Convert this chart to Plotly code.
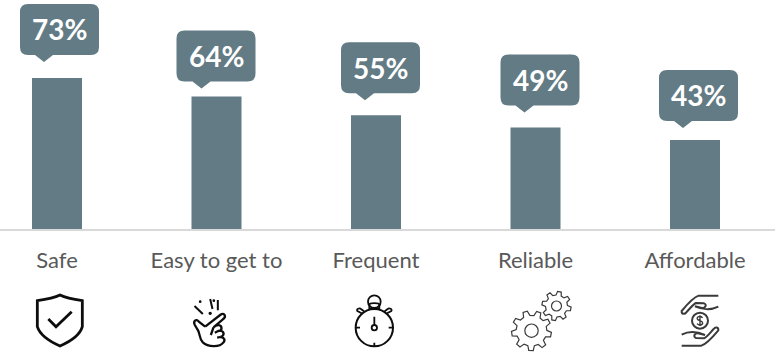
import math
import re
import plotly.graph_objects as go

categories = ["Safe", "Easy to get to", "Frequent", "Reliable", "Affordable"]
shares = [73, 64, 55, 49, 43]

BAR_COLOR = "#627b84"
AXIS_COLOR = "#d9d9d9"
LABEL_COLOR = "#595959"
ICON_DARK = "#0d0d0d"
ICON_SOFT = "#3a3a3a"

WIDTH, HEIGHT = 781, 354
LINE_END = 775
FIRST_CENTER = 57
STEP = 159.5
BASELINE = 229
PX_PER_POINT = 2.07

# Speech bubble geometry, in pixels measured from the top centre of each bar.
BUBBLE_W, BUBBLE_H = 79, 51
BUBBLE_LEFT = [-37, -40, -35, -35, -36]
BUBBLE_TIP_X = [-13, -15, -11, -11, -12]
BUBBLE_GAP = [16, 8, 15, 15, 12]


def bubble_path(left, tip_x, gap):
    """Rounded callout whose pointer tip sits `gap` pixels above the anchor."""
    r = 8
    bottom = gap + 7
    top = bottom + BUBBLE_H
    right = left + BUBBLE_W
    return (
        f"M{left + r},{top} L{right - r},{top} Q{right},{top} {right},{top - r} "
        f"L{right},{bottom + r} Q{right},{bottom} {right - r},{bottom} "
        f"L{tip_x + 9},{bottom} L{tip_x},{gap} L{tip_x - 9},{bottom} "
        f"L{left + r},{bottom} Q{left},{bottom} {left},{bottom + r} "
        f"L{left},{top - r} Q{left},{top} {left + r},{top} Z"
    )


def place(path, dx, dy, scale=1 / 3):
    """Map y-down icon units onto pixels around the axis anchor (y up)."""
    def swap(m):
        x = float(m.group(1)) * scale + dx
        y = -(float(m.group(2)) * scale + dy)
        return f"{x:.2f},{y:.2f}"
    return re.sub(r"(-?[\d.]+),(-?[\d.]+)", swap, path)


def circle(cx, cy, r):
    k = 0.5523 * r
    return (
        f"M{cx - r},{cy} C{cx - r},{cy - k} {cx - k},{cy - r} {cx},{cy - r} "
        f"C{cx + k},{cy - r} {cx + r},{cy - k} {cx + r},{cy} "
        f"C{cx + r},{cy + k} {cx + k},{cy + r} {cx},{cy + r} "
        f"C{cx - k},{cy + r} {cx - r},{cy + k} {cx - r},{cy} Z"
    )


def gear(cx, cy, outer, inner, teeth):
    pts = []
    for i in range(teeth):
        a = 2 * math.pi * i / teeth + 0.2
        w = math.pi / teeth
        for ang, rad in (
            (a - w * 0.62, inner), (a - w * 0.32, outer),
            (a + w * 0.32, outer), (a + w * 0.62, inner),
        ):
            pts.append((cx + rad * math.cos(ang), cy + rad * math.sin(ang)))
    return "M" + " L".join(f"{x:.1f},{y:.1f}" for x, y in pts) + " Z"


fig = go.Figure(
    go.Bar(
        x=categories,
        y=shares,
        width=50 / STEP,
        marker=dict(color=BAR_COLOR, line=dict(width=0)),
        hoverinfo="skip",
    )
)

shapes = []
annotations = []
for i, (cat, val) in enumerate(zip(categories, shares)):
    shapes.append(dict(
        type="path",
        xref="x", yref="y",
        xsizemode="pixel", ysizemode="pixel",
        xanchor=cat, yanchor=val,
        path=bubble_path(BUBBLE_LEFT[i], BUBBLE_TIP_X[i], BUBBLE_GAP[i]),
        fillcolor=BAR_COLOR,
        line=dict(width=0),
    ))
    annotations.append(dict(
        x=cat, y=val, xref="x", yref="y",
        text=f"<b>{val}%</b>",
        showarrow=False,
        xanchor="center", yanchor="middle",
        xshift=BUBBLE_LEFT[i] + BUBBLE_W / 2,
        yshift=BUBBLE_GAP[i] + 7 + BUBBLE_H / 2,
        font=dict(family="Lato", size=28, color="white"),
    ))


def icon(cat, path, dx, dy, width, color=ICON_DARK, fill="rgba(0,0,0,0)"):
    shapes.append(dict(
        type="path",
        xref="x", yref="paper",
        xsizemode="pixel", ysizemode="pixel",
        xanchor=cat, yanchor=0,
        path=place(path, dx, dy),
        fillcolor=fill,
        line=dict(color=color, width=width),
    ))


# Shield with a check mark.
SAFE_DX, SAFE_DY = 20 - 57, 285 - BASELINE
icon("Safe",
     "M52,47 C80,43 100,40 120,30 C140,40 160,43 187,47 L187,125 "
     "C180,150 150,170 120,183 C90,170 60,150 52,125 Z",
     SAFE_DX, SAFE_DY, 2.8)
icon("Safe", "M85,102 L108,125 L155,80", SAFE_DX, SAFE_DY, 2.8)

# Snapping fingers with sparks.
SNAP_DX, SNAP_DY = 170 - 217, 285 - BASELINE
icon("Easy to get to", "M75,63 L100,87 M122,42 L129,72 M145,45 L145,76",
     SNAP_DX, SNAP_DY, 2.0)
icon("Easy to get to", circle(92, 50, 2) + " " + circle(133, 47, 2) + " " + circle(122, 85, 3),
     SNAP_DX, SNAP_DY, 1.4, fill=ICON_DARK)
icon("Easy to get to",
     "M107,125 L152,90 C165,80 172,95 160,103 L132,127 "
     "C142,118 156,118 156,130 C156,136 150,138 146,138 "
     "C158,134 166,144 160,152 C158,155 155,156 152,156 "
     "C164,156 168,166 162,172 C150,188 115,186 100,172 "
     "C88,160 92,145 85,135 L76,120 C70,108 80,100 88,110 L107,125 "
     "M132,127 L124,150 M146,138 L136,143 M152,156 L143,158",
     SNAP_DX, SNAP_DY, 2.3)

# Stopwatch.
WATCH_DX, WATCH_DY = 330 - 376, 280 - BASELINE
icon("Frequent", circle(133, 143, 56), WATCH_DX, WATCH_DY, 2.0)
icon("Frequent", circle(133, 65, 19), WATCH_DX, WATCH_DY, 1.8)
icon("Frequent",
     "M118,85 L118,74 C118,68 148,68 148,74 L148,85 Z "
     "M95,100 L82,93 C78,88 88,82 94,88 L102,94 "
     "M171,100 L184,93 C188,88 178,82 172,88 L164,94",
     WATCH_DX, WATCH_DY, 1.8)
icon("Frequent",
     "M133,110 L133,134 M78,143 L90,143 M176,143 L188,143 M133,188 L133,199",
     WATCH_DX, WATCH_DY, 1.8)
icon("Frequent", circle(133, 143, 8), WATCH_DX, WATCH_DY, 1.8)

# Pair of meshing gears.
GEARS_DX, GEARS_DY = 330 - 536, 280 - BASELINE
icon("Reliable", gear(606, 152, 60, 46, 9), GEARS_DX, GEARS_DY, 1.2, color=ICON_SOFT)
icon("Reliable", circle(606, 152, 20), GEARS_DX, GEARS_DY, 1.2, color=ICON_SOFT)
icon("Reliable", gear(681, 78, 44, 33, 8), GEARS_DX, GEARS_DY, 1.2, color=ICON_SOFT)
icon("Reliable", circle(681, 78, 15), GEARS_DX, GEARS_DY, 1.2, color=ICON_SOFT)

# Two open hands around a coin.
HAND_DX, HAND_DY = 640 - 695, 280 - BASELINE
icon("Affordable",
     "M235,47 L176,47 C160,52 140,75 125,93 C124,103 134,104 139,97 "
     "C150,85 160,72 168,69 L192,70 C202,74 196,85 186,84 L165,79 "
     "C190,90 215,90 235,80",
     HAND_DX, HAND_DY, 2.0, color=ICON_SOFT)
icon("Affordable",
     "M125,197 L184,197 C200,192 220,169 235,151 C236,141 226,140 221,147 "
     "C210,159 200,172 192,175 L168,174 C158,170 164,159 174,160 L195,165 "
     "C170,154 145,154 125,164",
     HAND_DX, HAND_DY, 2.0, color=ICON_SOFT)
icon("Affordable", circle(180, 122, 24), HAND_DX, HAND_DY, 2.0, color=ICON_SOFT)
icon("Affordable",
     "M188,113 C180,106 170,110 172,117 C174,123 188,121 188,129 "
     "C188,136 176,137 171,131 M180,106 L180,138",
     HAND_DX, HAND_DY, 1.4, color=ICON_SOFT)

fig.update_layout(
    width=WIDTH,
    height=HEIGHT,
    autosize=False,
    margin=dict(l=0, r=WIDTH - LINE_END, t=0, b=HEIGHT - BASELINE, pad=0),
    paper_bgcolor="white",
    plot_bgcolor="white",
    showlegend=False,
    shapes=shapes,
    annotations=annotations,
    xaxis=dict(
        type="category",
        categoryorder="array",
        categoryarray=categories,
        range=[-FIRST_CENTER / STEP, (LINE_END - FIRST_CENTER) / STEP],
        showgrid=False,
        zeroline=False,
        showline=True,
        linecolor=AXIS_COLOR,
        linewidth=2,
        ticks="outside",
        ticklen=11,
        tickcolor="rgba(0,0,0,0)",
        tickfont=dict(family="Lato", size=22, color=LABEL_COLOR),
    ),
    yaxis=dict(
        range=[0, BASELINE / PX_PER_POINT],
        visible=False,
    ),
)

fig.write_html("out.html")
